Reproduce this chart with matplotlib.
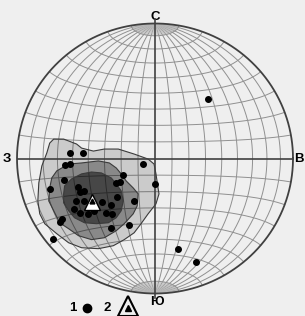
import numpy as np
import matplotlib
matplotlib.use("Agg")
import matplotlib.pyplot as plt
from matplotlib.patches import Polygon

# ---- data (unit-circle net coordinates, x: W->E, y: S->N) ----
pole_x = [0.381, -0.619, -0.525, -0.655, -0.619, -0.086, -0.662, -0.230, -0.281, -0.252,
          0.000, -0.763, -0.561, -0.540, -0.511, -0.273, -0.151, -0.381, -0.576, -0.518,
          -0.317, -0.590, -0.540, -0.482, -0.439, -0.353, -0.309, -0.676, -0.691, -0.187,
          -0.317, -0.741, 0.165, 0.295]
pole_y = [0.439, 0.041, 0.041, -0.048, -0.041, -0.041, -0.159, -0.122, -0.181, -0.173,
          -0.188, -0.225, -0.210, -0.247, -0.240, -0.284, -0.314, -0.321, -0.314, -0.314,
          -0.343, -0.373, -0.402, -0.410, -0.387, -0.402, -0.410, -0.446, -0.469, -0.491,
          -0.513, -0.594, -0.668, -0.764]
mean_x, mean_y = -0.460, -0.321

outer_x = [-0.734, -0.662, -0.568, -0.532, -0.446, -0.367, -0.266, -0.151, -0.050, -0.007,
           0.007, 0.022, 0.029, 0.007, -0.050, -0.101, -0.151, -0.223, -0.302, -0.410,
           -0.532, -0.626, -0.712, -0.799, -0.835, -0.849, -0.842, -0.820, -0.784, -0.763]
outer_y = [0.144, 0.144, 0.107, 0.077, 0.055, 0.070, 0.070, 0.033, -0.004, -0.041,
           -0.114, -0.218, -0.262, -0.336, -0.410, -0.483, -0.550, -0.601, -0.646, -0.668,
           -0.661, -0.624, -0.557, -0.483, -0.410, -0.314, -0.181, -0.055, 0.041, 0.114]
middle_x = [-0.712, -0.626, -0.532, -0.410, -0.331, -0.281, -0.245, -0.209, -0.158, -0.122,
            -0.129, -0.158, -0.223, -0.281, -0.367, -0.460, -0.554, -0.626, -0.691, -0.734,
            -0.770, -0.763, -0.748]
middle_y = [-0.092, -0.041, -0.033, -0.018, -0.033, -0.070, -0.114, -0.166, -0.218, -0.262,
            -0.351, -0.410, -0.483, -0.535, -0.587, -0.601, -0.572, -0.520, -0.476, -0.387,
            -0.314, -0.218, -0.144]
inner_x = [-0.655, -0.604, -0.532, -0.460, -0.388, -0.317, -0.281, -0.245, -0.230, -0.245,
           -0.281, -0.338, -0.424, -0.511, -0.583, -0.626, -0.662, -0.662]
inner_y = [-0.203, -0.151, -0.114, -0.100, -0.107, -0.144, -0.188, -0.240, -0.314, -0.387,
           -0.439, -0.476, -0.483, -0.476, -0.439, -0.387, -0.328, -0.262]

dir_labels = ["С", "Ю", "З", "В"]
legend_labels = ["1", "2"]

# ---- figure ----
bg = "#efefef"
fig = plt.figure(figsize=(3.05, 3.16), dpi=100, facecolor=bg)
ax = fig.add_axes([17 / 305, 22.5 / 316, 276 / 305, 270 / 316])
ax.set_xlim(-1, 1)
ax.set_ylim(-1, 1)
ax.axis("off")
ax.set_facecolor(bg)


def proj(lon_deg, lat_deg):
    lon = np.radians(lon_deg)
    lat = np.radians(lat_deg)
    k = np.sqrt(2.0 / (1.0 + np.cos(lat) * np.cos(lon)))
    return k * np.cos(lat) * np.sin(lon) / np.sqrt(2), k * np.sin(lat) / np.sqrt(2)


gcol = "#909090"
glw = 0.7
phi = np.linspace(-90, 90, 400)
for lon in range(-80, 81, 10):
    if lon == 0:
        continue
    x, y = proj(lon, phi)
    ax.plot(x, y, color=gcol, lw=glw, zorder=1)
# polar fan (2 deg meridians above 80 deg)
for lon in range(-88, 89, 2):
    if lon % 10 == 0:
        continue
    for sgn in (1, -1):
        p = np.linspace(80, 90, 30) * sgn
        x, y = proj(lon, p)
        ax.plot(x, y, color="#b8b8b8", lw=0.3, zorder=1)
lam = np.linspace(-90, 90, 400)
for lat in range(-80, 81, 10):
    if lat == 0:
        continue
    x, y = proj(lam, lat)
    ax.plot(x, y, color=gcol, lw=glw, zorder=1)

# contours (stacked translucent fills)
for xs, ys, a in [(outer_x, outer_y, 0.15), (middle_x, middle_y, 0.32), (inner_x, inner_y, 0.48)]:
    ax.add_patch(Polygon(np.column_stack([xs, ys]), closed=True, facecolor="black",
                         alpha=a, edgecolor="none", zorder=2))
    ax.add_patch(Polygon(np.column_stack([xs, ys]), closed=True, facecolor="none",
                         edgecolor="#3a3a3a", lw=0.8, zorder=3))

# axes cross and primitive circle
ax.plot([-1, 1], [0, 0], color="#404040", lw=1.2, zorder=4)
ax.plot([0, 0], [-1.03, 1.03], color="#404040", lw=1.2, zorder=4, clip_on=False)
t = np.linspace(0, 2 * np.pi, 500)
ax.plot(np.cos(t), np.sin(t), color="#404040", lw=1.3, zorder=4, clip_on=False)

# points
ax.plot(pole_x, pole_y, "o", color="black", ms=4, zorder=5, clip_on=False)
ax.plot([mean_x], [mean_y], "^", mfc="white", mec="black", ms=12, mew=1.0, zorder=6)
ax.plot([mean_x], [mean_y + 0.005], "^", color="black", ms=3.5, zorder=7)

# direction labels
fkw = dict(fontsize=9.5, fontweight="bold", family="Liberation Sans", ha="center", va="center")
ax.text(0, 1.05, dir_labels[0], **fkw)
ax.text(0.015, -1.06, dir_labels[1], **fkw)
ax.text(-1.075, 0.0, dir_labels[2], **fkw)
ax.text(1.045, 0.0, dir_labels[3], **fkw)

# legend
ax.text(-0.594, -1.105, legend_labels[0], **fkw)
ax.plot([-0.49], [-1.105], "o", color="black", ms=6, clip_on=False)
ax.text(-0.348, -1.105, legend_labels[1], **fkw)
ax.plot([-0.196], [-1.095], "^", mfc="none", mec="black", ms=14, mew=1.5, clip_on=False)
ax.plot([-0.196], [-1.11], "^", color="black", ms=4, clip_on=False)

fig.savefig("out.png", dpi=100, facecolor=bg)
